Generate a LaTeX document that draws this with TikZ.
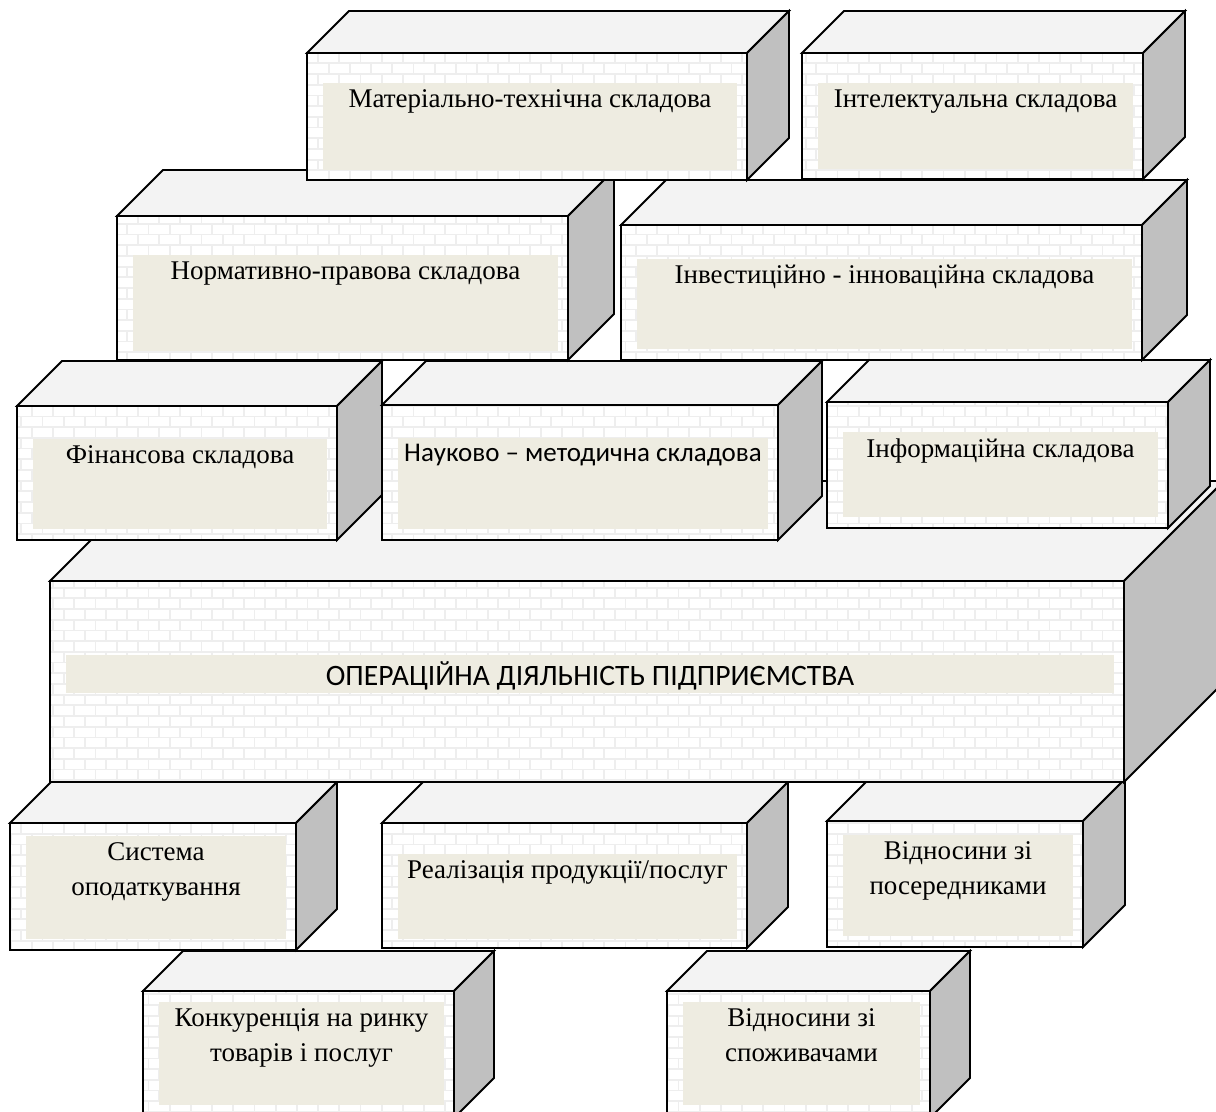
\documentclass[tikz,border=0pt]{standalone}
\usepackage{fontspec}
\setmainfont{Liberation Serif}
\newfontfamily\calibri{Carlito}
\usetikzlibrary{patterns, positioning}

\definecolor{topgray}{RGB}{243,243,243}
\definecolor{sidegray}{RGB}{192,192,192}
\definecolor{panel}{RGB}{238,236,225}
\definecolor{mortar}{RGB}{238,238,238}

% faint brick wall on the front faces
\pgfdeclarepatternformonly{wallbricks}{\pgfqpoint{-1pt}{-1pt}}{\pgfqpoint{12pt}{12pt}}{\pgfqpoint{10.6pt}{10.7pt}}{
  \pgfsetlinewidth{0.9pt}
  \pgfpathmoveto{\pgfqpoint{0pt}{0pt}}\pgfpathlineto{\pgfqpoint{10.6pt}{0pt}}
  \pgfpathmoveto{\pgfqpoint{0pt}{5.35pt}}\pgfpathlineto{\pgfqpoint{10.6pt}{5.35pt}}
  \pgfpathmoveto{\pgfqpoint{0pt}{0pt}}\pgfpathlineto{\pgfqpoint{0pt}{5.35pt}}
  \pgfpathmoveto{\pgfqpoint{5.3pt}{5.35pt}}\pgfpathlineto{\pgfqpoint{5.3pt}{10.7pt}}
  \pgfusepath{stroke}
}

\begin{document}
\begin{tikzpicture}[x=0.5pt, y=-0.5pt,
    front/.style={draw, line width=0.9pt, preaction={fill=white}, pattern=wallbricks, pattern color=mortar, inner sep=0pt, outer sep=0pt, anchor=north west},
    face/.style={draw, line width=0.9pt},
    panelbox/.style={fill=panel, inner sep=0pt, outer sep=0pt, anchor=north west},
    serif/.style={font=\fontsize{13.5}{17.5}\selectfont, align=center, anchor=north, inner sep=0pt},
    sans/.style={font=\calibri\fontsize{13.5}{17}\selectfont, align=center, anchor=north, inner sep=0pt},
    headline/.style={font=\calibri\fontsize{14.8}{17}\selectfont, align=center, anchor=north, inner sep=0pt}
]

    \useasboundingbox (0,0) rectangle (1216,1112);
    \clip (0,0) rectangle (1216,1112);

    % bricks from the bottom row upwards, so upper ones lie in front
    \foreach \n/\xa/\ya/\xb/\yb/\dep/\pin/\phgt/\s/\txt in {
        konk/143/991/454/1118/40/11/103/serif/{Конкуренція на ринку\\товарів і послуг},
        spozh/667/991/930/1118/40/11/103/serif/{Відносини зі\\споживачами},
        syst/10/823/296/950/41/13/103/serif/{Система\\оподаткування},
        real/382/823/747/948/41/31/85/serif/{Реалізація продукції/послуг},
        poser/827/821/1083/947/42/14/101/serif/{Відносини зі\\посередниками},
        oper/50/581/1124/782/100/74/38/headline/{ОПЕРАЦІЙНА ДІЯЛЬНІСТЬ ПІДПРИЄМСТВА},
        fin/17/406/337/540/45/33/90/serif/{Фінансова складова},
        nauk/382/405/778/540/44/33/91/sans/{Науково – методична складова},
        inform/827/402/1168/528/42/30/85/serif/{Інформаційна складова},
        norm/117/216/568/360/46/39/96/serif/{Нормативно-правова складова},
        invest/621/225/1142/360/45/34/90/serif/{Інвестиційно - інноваційна складова},
        mat/307/53/747/180/42/30/87/serif/{Матеріально-технічна складова},
        intel/802/53/1143/179/42/30/86/serif/{Інтелектуальна складова}%
    }{
        \pgfmathsetmacro\w{(\xb-\xa)/2}
        \pgfmathsetmacro\h{(\yb-\ya)/2}
        \pgfmathsetmacro\pw{(\xb-\xa-26)/2}
        \pgfmathsetmacro\ph{\phgt/2}
        \node[front, minimum width=\w pt, minimum height=\h pt] (\n) at (\xa,\ya) {};
        \draw[face, fill=topgray] (\n.north west) -- ++(\dep,-\dep) -- ++(\xb-\xa,0) -- (\n.north east) -- cycle;
        \draw[face, fill=sidegray] (\n.north east) -- ++(\dep,-\dep) -- ++(0,\yb-\ya) -- (\n.south east) -- cycle;
        \node[panelbox, minimum width=\pw pt, minimum height=\ph pt] (\n-p) at ([shift={(16,\pin)}]\n.north west) {};
        \node[\s] (\n-t) at ([yshift=-3pt]\n-p.north) {\txt};
    }

\end{tikzpicture}
\end{document}
